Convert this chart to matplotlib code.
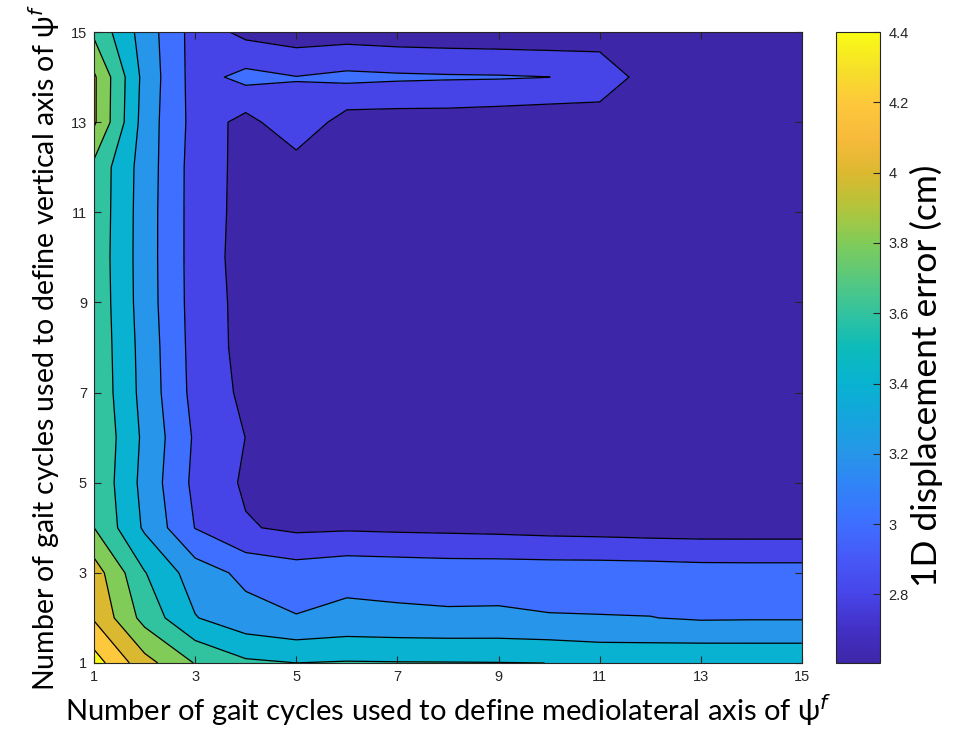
import numpy as np
import matplotlib
matplotlib.use("Agg")
import matplotlib.pyplot as plt
from matplotlib.colors import LinearSegmentedColormap, Normalize
from matplotlib.cm import ScalarMappable

# gait cycles used for the mediolateral (x) and vertical (y) axes
ml_cycles = list(range(1, 16))
vt_cycles = list(range(1, 16))

# 1D displacement error (cm), one row per vertical-axis cycle count (1..15)
row_01 = [4.494, 4.074, 3.790, 3.635, 3.601, 3.615, 3.610, 3.608, 3.605, 3.5995, 3.563, 3.560, 3.573, 3.569, 3.569]
row_02 = [4.180, 3.730, 3.410, 3.272, 3.210, 3.250, 3.237, 3.229, 3.232, 3.212, 3.208, 3.204, 3.180, 3.184, 3.184]
row_03 = [4.100, 3.610, 3.300, 3.150, 3.097, 3.138, 3.127, 3.114, 3.114, 3.109, 3.108, 3.102, 3.088, 3.085, 3.085]
row_04 = [3.801, 3.370, 2.995, 2.817, 2.763, 2.775, 2.764, 2.757, 2.747, 2.732, 2.723, 2.710, 2.704, 2.704, 2.704]
row_05 = [3.775, 3.335, 2.951, 2.771, 2.720, 2.710, 2.700, 2.690, 2.680, 2.675, 2.670, 2.665, 2.660, 2.660, 2.660]
row_06 = [3.790, 3.357, 2.973, 2.798, 2.730, 2.690, 2.675, 2.665, 2.655, 2.650, 2.645, 2.640, 2.640, 2.640, 2.640]
row_07 = [3.763, 3.329, 2.935, 2.757, 2.700, 2.670, 2.655, 2.645, 2.640, 2.635, 2.630, 2.628, 2.628, 2.630, 2.630]
row_08 = [3.755, 3.320, 2.925, 2.736, 2.690, 2.660, 2.645, 2.635, 2.628, 2.622, 2.618, 2.615, 2.617, 2.620, 2.622]
row_09 = [3.747, 3.302, 2.918, 2.734, 2.685, 2.655, 2.640, 2.628, 2.620, 2.612, 2.608, 2.605, 2.610, 2.615, 2.618]
row_10 = [3.739, 3.299, 2.915, 2.720, 2.685, 2.655, 2.640, 2.628, 2.620, 2.613, 2.610, 2.608, 2.612, 2.616, 2.620]
row_11 = [3.747, 3.300, 2.915, 2.730, 2.690, 2.660, 2.645, 2.635, 2.627, 2.620, 2.618, 2.617, 2.620, 2.622, 2.625]
row_12 = [3.751, 3.307, 2.915, 2.735, 2.705, 2.675, 2.660, 2.650, 2.642, 2.637, 2.640, 2.640, 2.640, 2.640, 2.642]
row_13 = [4.030, 3.310, 2.930, 2.730, 2.955, 2.707, 2.701, 2.701, 2.684, 2.665, 2.735, 2.700, 2.690, 2.680, 2.680]
row_14 = [4.030, 3.333, 2.918, 3.060, 3.005, 3.047, 3.030, 3.020, 3.015, 3.002, 2.880, 2.742, 2.700, 2.690, 2.690]
row_15 = [3.760, 3.309, 2.918, 2.745, 2.690, 2.708, 2.687, 2.676, 2.668, 2.660, 2.737, 2.700, 2.690, 2.680, 2.680]

line_levels = [2.8, 3.0, 3.2, 3.4, 3.6, 3.8, 4.0, 4.2, 4.4]
cbar_ticks = [2.8, 3.0, 3.2, 3.4, 3.6, 3.8, 4.0, 4.2, 4.4]
clim = (2.605, 4.4)

# parula-like colormap
parula_pts = [
    (0.000, (0.2422, 0.1504, 0.6603)),
    (0.055, (0.2620, 0.1930, 0.7820)),
    (0.111, (0.2800, 0.2750, 0.9200)),
    (0.165, (0.2790, 0.3480, 0.9730)),
    (0.222, (0.2424, 0.4378, 0.9991)),
    (0.280, (0.1900, 0.5150, 0.9700)),
    (0.333, (0.1500, 0.5900, 0.9100)),
    (0.390, (0.0800, 0.6500, 0.8650)),
    (0.444, (0.0300, 0.7000, 0.8150)),
    (0.500, (0.0500, 0.7350, 0.7300)),
    (0.556, (0.2000, 0.7640, 0.6200)),
    (0.611, (0.3500, 0.7850, 0.4900)),
    (0.667, (0.5050, 0.7990, 0.3480)),
    (0.722, (0.7000, 0.7700, 0.2300)),
    (0.778, (0.8600, 0.7240, 0.1870)),
    (0.833, (0.9700, 0.7300, 0.2300)),
    (0.889, (0.9930, 0.7810, 0.2330)),
    (0.944, (0.9650, 0.8800, 0.1600)),
    (1.000, (0.9769, 0.9839, 0.0805)),
]
parula = LinearSegmentedColormap.from_list("parula", parula_pts)

Z = np.array([row_01, row_02, row_03, row_04, row_05, row_06, row_07, row_08,
              row_09, row_10, row_11, row_12, row_13, row_14, row_15])
X, Y = np.meshgrid(ml_cycles, vt_cycles)

norm = Normalize(*clim)
fill_levels = [Z.min() - 0.01] + line_levels + [Z.max() + 0.01]
# MATLAB-style: each band takes the colour of its lower level
band_colors = [parula(norm(max(lv, clim[0]))) for lv in fill_levels[:-1]]

fig = plt.figure(figsize=(9.56, 7.41), dpi=100)
ax = fig.add_axes([94 / 956, 1 - 663 / 741, 708 / 956, 631 / 741])
cax = fig.add_axes([836 / 956, 1 - 663 / 741, 44 / 956, 631 / 741])

ax.contourf(X, Y, Z, levels=fill_levels, colors=band_colors)
ax.contour(X, Y, Z, levels=line_levels, colors="black", linewidths=0.9)

label_font = "Lato"
tick_font = "Liberation Sans"
dark = "#262626"

ax.set_xlim(1, 15)
ax.set_ylim(1, 15)
ax.set_xticks(range(1, 16, 2))
ax.set_yticks(range(1, 16, 2))
ax.tick_params(direction="in", top=True, right=True, length=5, width=0.8,
               colors=dark, labelsize=10.5, pad=5)
for lab in ax.get_xticklabels() + ax.get_yticklabels():
    lab.set_fontfamily(tick_font)
for sp in ax.spines.values():
    sp.set_color(dark)
    sp.set_linewidth(0.8)

ax.set_xlabel("Number of gait cycles used to define mediolateral axis of ψ$^{f}$",
              fontsize=21, family=label_font, labelpad=6)
ax.set_ylabel("Number of gait cycles used to define vertical axis of ψ$^{f}$",
              fontsize=20.5, family=label_font, labelpad=6)

sm = ScalarMappable(norm=norm, cmap=parula)
cb = fig.colorbar(sm, cax=cax, ticks=cbar_ticks)
cb.outline.set_edgecolor(dark)
cb.outline.set_linewidth(0.8)
cax.tick_params(direction="in", length=5, width=0.8, colors=dark,
                labelsize=10.5, pad=6)
cax.set_yticklabels([f"{t:g}" for t in cbar_ticks])
for lab in cax.get_yticklabels():
    lab.set_fontfamily(tick_font)
cb.set_label("1D displacement error (cm)", fontsize=25.5, family=label_font)
cax.yaxis.set_label_coords(1.68, 0.455)

fig.savefig("out.png", dpi=100)
